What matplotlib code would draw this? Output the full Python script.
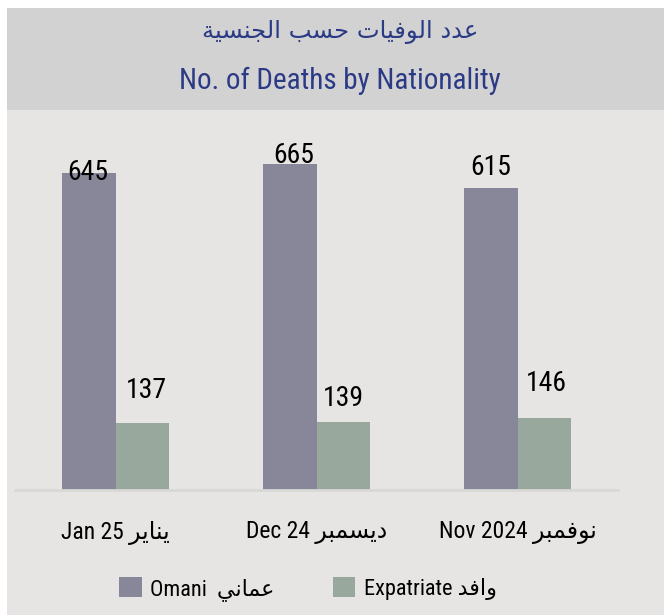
import matplotlib
matplotlib.use("Agg")
import matplotlib.pyplot as plt
from matplotlib import font_manager as fm
from matplotlib.patches import Rectangle, Patch
import numpy as np

# ---------------- data ----------------
categories_en = ["Jan 25", "Dec 24", "Nov 2024"]
categories_ar = ["يناير", "ديسمبر", "نوفمبر"]
omani = [645, 665, 615]
expatriate = [137, 139, 146]
series_en = ["Omani", "Expatriate"]
series_ar = ["عماني", "وافد"]
title_ar = "عدد الوفيات حسب الجنسية"
title_en = "No. of Deaths by Nationality"

# ---------------- minimal Arabic shaping (presentation forms) ----------------
FORMS = {
    'ا': (0xFE8D, 0xFE8E, None, None),
    'ب': (0xFE8F, 0xFE90, 0xFE91, 0xFE92),
    'ة': (0xFE93, 0xFE94, None, None),
    'ت': (0xFE95, 0xFE96, 0xFE97, 0xFE98),
    'ج': (0xFE9D, 0xFE9E, 0xFE9F, 0xFEA0),
    'ح': (0xFEA1, 0xFEA2, 0xFEA3, 0xFEA4),
    'د': (0xFEA9, 0xFEAA, None, None),
    'ر': (0xFEAD, 0xFEAE, None, None),
    'س': (0xFEB1, 0xFEB2, 0xFEB3, 0xFEB4),
    'ع': (0xFEC9, 0xFECA, 0xFECB, 0xFECC),
    'ف': (0xFED1, 0xFED2, 0xFED3, 0xFED4),
    'ل': (0xFEDD, 0xFEDE, 0xFEDF, 0xFEE0),
    'م': (0xFEE1, 0xFEE2, 0xFEE3, 0xFEE4),
    'ن': (0xFEE5, 0xFEE6, 0xFEE7, 0xFEE8),
    'و': (0xFEED, 0xFEEE, None, None),
    'ي': (0xFEF1, 0xFEF2, 0xFEF3, 0xFEF4),
}


def shape(text):
    out = []
    n = len(text)
    for i, c in enumerate(text):
        if c not in FORMS:
            out.append(c)
            continue
        iso, fin, ini, med = FORMS[c]
        prev = text[i - 1] if i > 0 else None
        nxt = text[i + 1] if i + 1 < n else None
        jp = prev in FORMS and FORMS[prev][2] is not None
        jn = nxt in FORMS and ini is not None
        if jp and jn:
            g = med
        elif jp:
            g = fin
        elif jn:
            g = ini
        else:
            g = iso
        out.append(chr(g))
    return "".join(reversed(out))


# ---------------- fonts ----------------
names = {f.name for f in fm.fontManager.ttflist}
latin = next((n for n in ["Liberation Sans Narrow", "Roboto Condensed",
                          "Open Sans Condensed", "DejaVu Sans Condensed",
                          "Liberation Sans", "DejaVu Sans"] if n in names),
             "DejaVu Sans")
FAM = [latin, "DejaVu Sans"]
plt.rcParams["font.family"] = FAM

# ---------------- figure ----------------
W, H = 664, 615
fig = plt.figure(figsize=(W / 100, H / 100), dpi=100)
fig.patch.set_facecolor("white")


def fx(x):
    return x / W


def fy(y):
    return 1 - y / H


BODY = "#e6e5e3"
BAND = "#d3d2d3"
OMANI_C = "#878799"
EXP_C = "#98a89c"
TITLE_C = "#2b3a85"

fig.add_artist(Rectangle((fx(7), fy(615)), fx(664) - fx(7), fy(8) - fy(615),
                         transform=fig.transFigure, facecolor=BODY,
                         edgecolor="none", zorder=0))
fig.add_artist(Rectangle((fx(7), fy(110)), fx(664) - fx(7), fy(8) - fy(110),
                         transform=fig.transFigure, facecolor=BAND,
                         edgecolor="none", zorder=0))

fig.text(fx(340), fy(32), shape(title_ar), ha="center", va="center",
         fontsize=17.5, color=TITLE_C, family=["DejaVu Sans"])
fig.text(fx(340), fy(81), title_en, ha="center", va="center",
         fontsize=21, color=TITLE_C)

# ---------------- axes ----------------
ax = fig.add_axes([fx(15), fy(490), fx(618) - fx(15), fy(120) - fy(490)])
ax.set_facecolor("none")
x = np.arange(len(categories_en))
bw = 0.264
b1 = ax.bar(x - bw / 2, omani, bw, color=OMANI_C, zorder=2)
b2 = ax.bar(x + bw / 2, expatriate, bw, color=EXP_C, zorder=2)
ax.set_xlim(-0.5, 2.5)
ax.set_ylim(0, 753.6)
for s in ["top", "left", "right"]:
    ax.spines[s].set_visible(False)
ax.spines["bottom"].set_color("#d8d8d7")
ax.spines["bottom"].set_linewidth(2)
ax.set_yticks([])
ax.set_xticks(x)
ax.set_xticklabels([f"{e} {shape(a)}" for e, a in zip(categories_en, categories_ar)],
                   fontsize=17)
ax.tick_params(axis="x", length=0, pad=22)

# value labels (offsets in points: dx, dy above bar top to text baseline)
om_off = [(-1.0, -4.5), (3.0, 0.7), (0.0, 9.5)]
ex_off = [(3.5, 18.0), (0.5, 11.0), (2.0, 19.5)]
for i, v in enumerate(omani):
    ax.annotate(str(v), (x[i] - bw / 2, v), xytext=om_off[i],
                textcoords="offset points", ha="center", va="baseline",
                fontsize=20, color="black", zorder=3)
for i, v in enumerate(expatriate):
    ax.annotate(str(v), (x[i] + bw / 2, v), xytext=ex_off[i],
                textcoords="offset points", ha="center", va="baseline",
                fontsize=20, color="black", zorder=3)

# ---------------- legend ----------------
handles = [Patch(facecolor=OMANI_C, edgecolor="none"),
           Patch(facecolor=EXP_C, edgecolor="none")]
labels = [f"{series_en[0]}  {shape(series_ar[0])}",
          f"{series_en[1]} {shape(series_ar[1])}"]
fig.legend(handles, labels, loc="center", bbox_to_anchor=(fx(308), fy(589)),
           ncol=2, frameon=False, fontsize=16, handlelength=1.0,
           handleheight=1.0, handletextpad=0.4, columnspacing=2.6)

fig.savefig("out.png", dpi=100, facecolor="white")
